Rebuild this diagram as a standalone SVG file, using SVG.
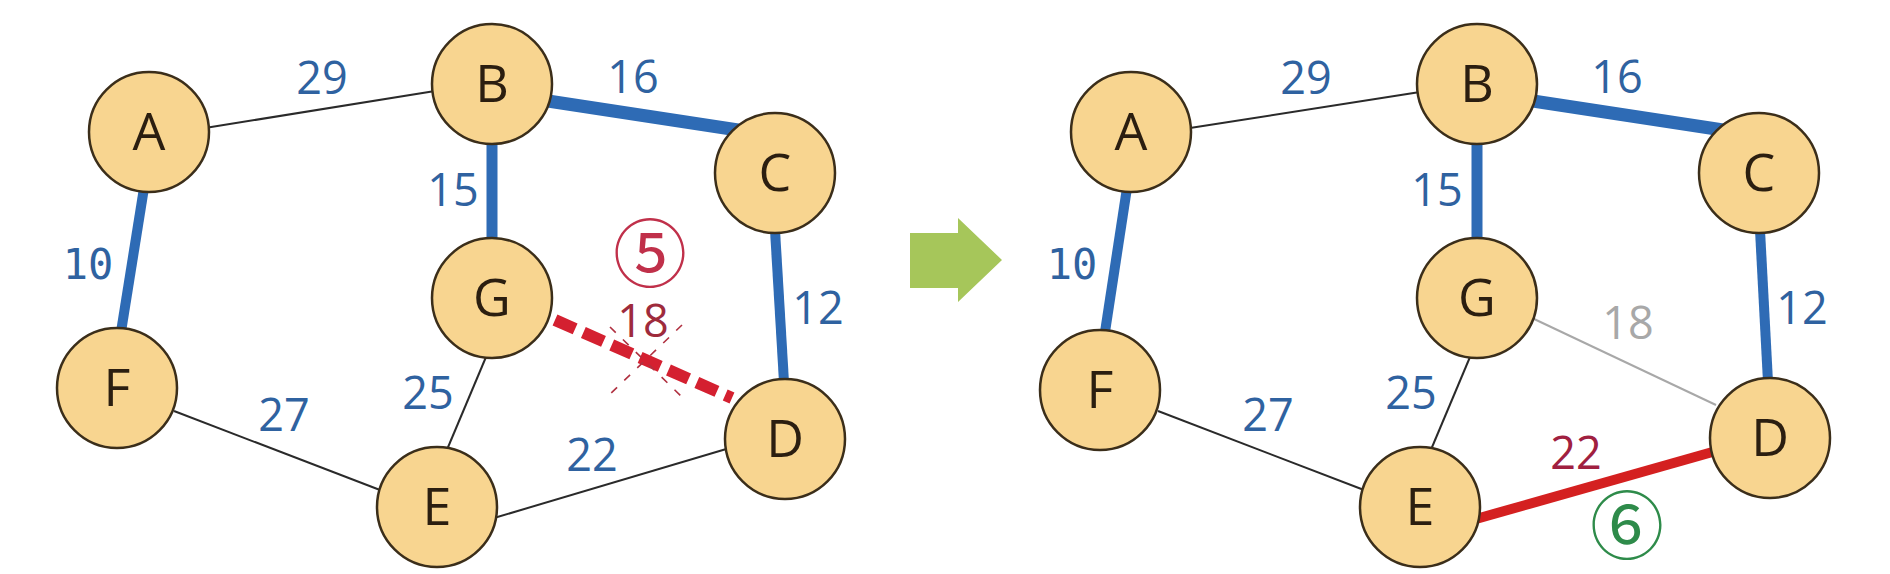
<svg xmlns="http://www.w3.org/2000/svg" width="1890" height="574" viewBox="0 0 1890 574">
<style>
.node circle{fill:#F8D590;stroke:#3B2E1A;stroke-width:2.5}
.node text{font-family:"Open Sans","Noto Sans",sans-serif;font-size:52px;fill:#2B1E10;text-anchor:middle}
.w{font-family:"Open Sans","Noto Sans",sans-serif;font-size:45px;fill:#2F62A0;text-anchor:middle}
.mono{font-family:"DejaVu Sans Mono","Liberation Mono",monospace;font-size:42px}
.thin{stroke:#2A2A2A;stroke-width:2;fill:none}
.blue{stroke:#2E6BB5;stroke-width:11;fill:none}
.circ{font-family:"Noto Sans CJK JP","Noto Sans CJK SC",sans-serif;font-size:74px;text-anchor:middle}
</style>
<rect width="1890" height="574" fill="#FFFFFF"/>

<!-- Left graph -->
<g id="left-connectors">
  <line class="thin" x1="205" y1="128" x2="435" y2="91"/>
  <line class="blue" x1="548" y1="101" x2="738" y2="130" style="stroke-width:13"/>
  <line class="blue" x1="492" y1="140" x2="492" y2="242"/>
  <line class="blue" x1="144" y1="188" x2="121" y2="332" style="stroke-width:10"/>
  <line class="blue" x1="775" y1="230" x2="784" y2="382" style="stroke-width:10"/>
  <line class="thin" x1="486" y1="357" x2="446" y2="452"/>
  <line class="thin" x1="174" y1="411" x2="380" y2="490"/>
  <line class="thin" x1="494" y1="518" x2="733" y2="447"/>
  <line x1="555" y1="320" x2="732" y2="398" stroke="#D42030" stroke-width="12" stroke-dasharray="22 9"/>
  <line x1="682" y1="325" x2="607" y2="397" stroke="#B03040" stroke-width="1.6" stroke-dasharray="8 10"/>
  <line x1="610" y1="327" x2="682" y2="397" stroke="#B03040" stroke-width="1.6" stroke-dasharray="8 10"/>
</g>
<g id="left-labels">
  <text class="w" x="322" y="94">29</text>
  <text class="w" x="633" y="93">16</text>
  <text class="w" x="453" y="206">15</text>
  <text class="w mono" x="88" y="279">10</text>
  <text class="w" x="818" y="324">12</text>
  <text class="w" x="643" y="337" style="fill:#9E2B3C">18</text>
  <text class="w" x="428" y="409">25</text>
  <text class="w" x="284" y="431">27</text>
  <text class="w" x="592" y="471">22</text>
  <text class="circ" x="650" y="281" fill="#C0304A">⑤</text>
</g>
<g id="L-A" class="node"><circle cx="149" cy="132" r="60"/><text x="149" y="150">A</text></g>
<g id="L-B" class="node"><circle cx="492" cy="84" r="60"/><text x="492" y="102">B</text></g>
<g id="L-C" class="node"><circle cx="775" cy="173" r="60"/><text x="775" y="191">C</text></g>
<g id="L-G" class="node"><circle cx="492" cy="298" r="60"/><text x="492" y="316">G</text></g>
<g id="L-F" class="node"><circle cx="117" cy="388" r="60"/><text x="117" y="406">F</text></g>
<g id="L-E" class="node"><circle cx="437" cy="507" r="60"/><text x="437" y="525">E</text></g>
<g id="L-D" class="node"><circle cx="785" cy="439" r="60"/><text x="785" y="457">D</text></g>

<!-- Arrow -->
<g id="arrow">
  <polygon points="910,233 958,233 958,218 1002,260 958,302 958,288 910,288" fill="#A6C65A"/>
</g>

<!-- Right graph -->
<g id="right-connectors">
  <line class="thin" x1="1190" y1="128" x2="1420" y2="92"/>
  <line class="blue" x1="1533" y1="101" x2="1723" y2="130" style="stroke-width:13"/>
  <line class="blue" x1="1477" y1="140" x2="1477" y2="242"/>
  <line class="blue" x1="1127" y1="188" x2="1105" y2="332" style="stroke-width:10"/>
  <line class="blue" x1="1760" y1="230" x2="1768" y2="382" style="stroke-width:10"/>
  <line class="thin" x1="1470" y1="357" x2="1430" y2="452"/>
  <line class="thin" x1="1158" y1="411" x2="1364" y2="490"/>
  <line x1="1532" y1="318" x2="1716" y2="405" stroke="#A8A8A8" stroke-width="2"/>
  <line x1="1476" y1="519" x2="1716" y2="451" stroke="#D42020" stroke-width="10"/>
</g>
<g id="right-labels">
  <text class="w" x="1306" y="94">29</text>
  <text class="w" x="1617" y="93">16</text>
  <text class="w" x="1437" y="206">15</text>
  <text class="w mono" x="1072" y="279">10</text>
  <text class="w" x="1802" y="324">12</text>
  <text class="w" x="1628" y="339" style="fill:#A8A8A8">18</text>
  <text class="w" x="1411" y="409">25</text>
  <text class="w" x="1268" y="431">27</text>
  <text class="w" x="1576" y="469" style="fill:#A02040">22</text>
  <text class="circ" x="1627" y="553" fill="#2E8B4A">⑥</text>
</g>
<g id="R-A" class="node"><circle cx="1131" cy="132" r="60"/><text x="1131" y="150">A</text></g>
<g id="R-B" class="node"><circle cx="1477" cy="84" r="60"/><text x="1477" y="102">B</text></g>
<g id="R-C" class="node"><circle cx="1759" cy="173" r="60"/><text x="1759" y="191">C</text></g>
<g id="R-G" class="node"><circle cx="1477" cy="298" r="60"/><text x="1477" y="316">G</text></g>
<g id="R-F" class="node"><circle cx="1100" cy="390" r="60"/><text x="1100" y="408">F</text></g>
<g id="R-E" class="node"><circle cx="1420" cy="507" r="60"/><text x="1420" y="525">E</text></g>
<g id="R-D" class="node"><circle cx="1770" cy="438" r="60"/><text x="1770" y="456">D</text></g>
</svg>
